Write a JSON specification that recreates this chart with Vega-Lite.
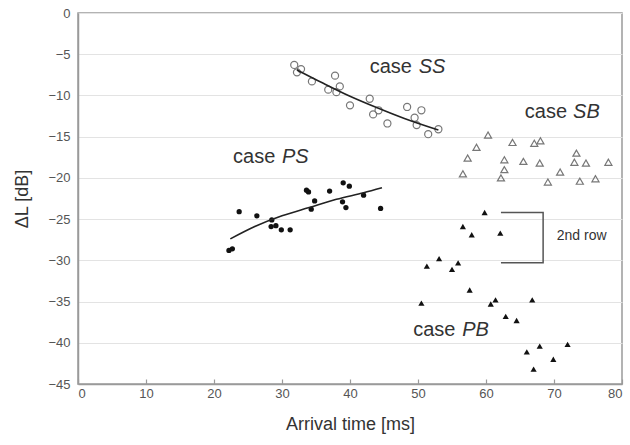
{
  "$schema": "https://vega.github.io/schema/vega-lite/v6.json",
  "width": 544,
  "height": 371,
  "autosize": {"type": "none"},
  "padding": {"left": 78, "top": 13, "right": 8, "bottom": 61},
  "background": "white",
  "config": {
    "view": {"stroke": "#9a9a9a", "strokeWidth": 1.5},
    "font": "Liberation Sans",
    "axis": {
      "labelFont": "Liberation Sans",
      "titleFont": "Liberation Sans",
      "labelColor": "#555555",
      "labelFontSize": 13,
      "titleFontSize": 18,
      "titleFontWeight": "normal",
      "titleColor": "#333333",
      "domainColor": "#9a9a9a",
      "domainWidth": 1.5,
      "tickColor": "#9a9a9a"
    }
  },
  "datasets": {
    "points": [
      {"t": 31.8, "dL": -6.3, "case": "SS"},
      {"t": 32.2, "dL": -7.2, "case": "SS"},
      {"t": 32.8, "dL": -6.8, "case": "SS"},
      {"t": 34.4, "dL": -8.3, "case": "SS"},
      {"t": 37.8, "dL": -7.6, "case": "SS"},
      {"t": 36.8, "dL": -9.3, "case": "SS"},
      {"t": 38.5, "dL": -8.9, "case": "SS"},
      {"t": 38.0, "dL": -9.6, "case": "SS"},
      {"t": 40.0, "dL": -11.2, "case": "SS"},
      {"t": 42.9, "dL": -10.4, "case": "SS"},
      {"t": 44.2, "dL": -11.8, "case": "SS"},
      {"t": 43.4, "dL": -12.3, "case": "SS"},
      {"t": 45.5, "dL": -13.4, "case": "SS"},
      {"t": 48.4, "dL": -11.4, "case": "SS"},
      {"t": 50.5, "dL": -11.8, "case": "SS"},
      {"t": 49.5, "dL": -12.7, "case": "SS"},
      {"t": 49.8, "dL": -13.6, "case": "SS"},
      {"t": 51.5, "dL": -14.7, "case": "SS"},
      {"t": 53.0, "dL": -14.1, "case": "SS"},
      {"t": 22.2, "dL": -28.8, "case": "PS"},
      {"t": 22.7, "dL": -28.6, "case": "PS"},
      {"t": 23.7, "dL": -24.1, "case": "PS"},
      {"t": 26.3, "dL": -24.6, "case": "PS"},
      {"t": 28.5, "dL": -25.1, "case": "PS"},
      {"t": 28.4, "dL": -25.9, "case": "PS"},
      {"t": 29.1, "dL": -25.8, "case": "PS"},
      {"t": 29.9, "dL": -26.3, "case": "PS"},
      {"t": 31.2, "dL": -26.3, "case": "PS"},
      {"t": 33.6, "dL": -21.5, "case": "PS"},
      {"t": 33.9, "dL": -21.7, "case": "PS"},
      {"t": 34.8, "dL": -22.8, "case": "PS"},
      {"t": 34.3, "dL": -23.8, "case": "PS"},
      {"t": 37.0, "dL": -21.6, "case": "PS"},
      {"t": 39.0, "dL": -20.6, "case": "PS"},
      {"t": 39.9, "dL": -21.0, "case": "PS"},
      {"t": 38.9, "dL": -22.9, "case": "PS"},
      {"t": 39.4, "dL": -23.6, "case": "PS"},
      {"t": 42.0, "dL": -22.1, "case": "PS"},
      {"t": 44.5, "dL": -23.7, "case": "PS"},
      {"t": 60.3, "dL": -14.8, "case": "SB"},
      {"t": 58.6, "dL": -16.3, "case": "SB"},
      {"t": 57.3, "dL": -17.6, "case": "SB"},
      {"t": 56.6, "dL": -19.5, "case": "SB"},
      {"t": 63.9, "dL": -15.7, "case": "SB"},
      {"t": 62.7, "dL": -17.8, "case": "SB"},
      {"t": 62.7, "dL": -19.0, "case": "SB"},
      {"t": 62.2, "dL": -20.0, "case": "SB"},
      {"t": 65.5, "dL": -18.0, "case": "SB"},
      {"t": 67.1, "dL": -15.8, "case": "SB"},
      {"t": 68.0, "dL": -15.5, "case": "SB"},
      {"t": 67.9, "dL": -18.2, "case": "SB"},
      {"t": 69.1, "dL": -20.5, "case": "SB"},
      {"t": 70.9, "dL": -19.3, "case": "SB"},
      {"t": 73.3, "dL": -17.0, "case": "SB"},
      {"t": 73.0, "dL": -18.1, "case": "SB"},
      {"t": 74.7, "dL": -18.2, "case": "SB"},
      {"t": 73.8, "dL": -20.4, "case": "SB"},
      {"t": 76.1, "dL": -20.1, "case": "SB"},
      {"t": 78.0, "dL": -18.1, "case": "SB"},
      {"t": 59.8, "dL": -24.2, "case": "PB"},
      {"t": 56.6, "dL": -25.9, "case": "PB"},
      {"t": 57.9, "dL": -26.9, "case": "PB"},
      {"t": 62.1, "dL": -26.7, "case": "PB"},
      {"t": 53.1, "dL": -29.8, "case": "PB"},
      {"t": 51.3, "dL": -30.7, "case": "PB"},
      {"t": 55.9, "dL": -30.3, "case": "PB"},
      {"t": 55.0, "dL": -31.1, "case": "PB"},
      {"t": 57.6, "dL": -33.6, "case": "PB"},
      {"t": 50.5, "dL": -35.2, "case": "PB"},
      {"t": 60.7, "dL": -35.3, "case": "PB"},
      {"t": 61.4, "dL": -34.8, "case": "PB"},
      {"t": 66.8, "dL": -34.8, "case": "PB"},
      {"t": 62.9, "dL": -36.8, "case": "PB"},
      {"t": 64.5, "dL": -37.3, "case": "PB"},
      {"t": 66.0, "dL": -41.1, "case": "PB"},
      {"t": 67.9, "dL": -40.4, "case": "PB"},
      {"t": 67.0, "dL": -43.2, "case": "PB"},
      {"t": 69.9, "dL": -42.0, "case": "PB"},
      {"t": 72.0, "dL": -40.2, "case": "PB"}
    ],
    "fits": [
      {"t": 32.2, "dL": -6.9, "case": "SS"},
      {"t": 36, "dL": -8.5, "case": "SS"},
      {"t": 40, "dL": -10.1, "case": "SS"},
      {"t": 44, "dL": -11.5, "case": "SS"},
      {"t": 48, "dL": -12.8, "case": "SS"},
      {"t": 53, "dL": -14.2, "case": "SS"},
      {"t": 22.4, "dL": -27.4, "case": "PS"},
      {"t": 26, "dL": -25.9, "case": "PS"},
      {"t": 30, "dL": -24.6, "case": "PS"},
      {"t": 34, "dL": -23.6, "case": "PS"},
      {"t": 38, "dL": -22.6, "case": "PS"},
      {"t": 42, "dL": -21.8, "case": "PS"},
      {"t": 44.7, "dL": -21.2, "case": "PS"}
    ],
    "bracket": [
      {"t": 62.2, "dL": -24.2, "k": 1},
      {"t": 68.4, "dL": -24.2, "k": 2},
      {"t": 68.4, "dL": -30.3, "k": 3},
      {"t": 62.2, "dL": -30.3, "k": 4}
    ],
    "labels": [
      {"t": 42.9, "dL": -7.3, "word": "case", "style": "normal"},
      {"t": 50.1, "dL": -7.3, "word": "SS", "style": "italic"},
      {"t": 22.8, "dL": -18.2, "word": "case", "style": "normal"},
      {"t": 30.0, "dL": -18.2, "word": "PS", "style": "italic"},
      {"t": 65.7, "dL": -12.7, "word": "case", "style": "normal"},
      {"t": 72.8, "dL": -12.7, "word": "SB", "style": "italic"},
      {"t": 49.3, "dL": -39.2, "word": "case", "style": "normal"},
      {"t": 56.5, "dL": -39.2, "word": "PB", "style": "italic"}
    ],
    "note": [
      {"t": 70.4, "dL": -27.55, "word": "2nd row"}
    ]
  },
  "encoding": {
    "x": {
      "field": "t", "type": "quantitative",
      "scale": {"domain": [0, 80], "nice": false},
      "axis": {
        "title": "Arrival time [ms]",
        "values": [0, 10, 20, 30, 40, 50, 60, 70, 80],
        "grid": false,
        "tickSize": -5,
        "tickWidth": 1.2,
        "labelPadding": 8,
        "titlePadding": 15
      }
    },
    "y": {
      "field": "dL", "type": "quantitative",
      "scale": {"domain": [-45, 0], "nice": false},
      "axis": {
        "title": "ΔL [dB]",
        "values": [0, -5, -10, -15, -20, -25, -30, -35, -40, -45],
        "grid": true,
        "gridColor": "#e3e3e3",
        "gridWidth": 1,
        "ticks": false,
        "labelPadding": 8,
        "titlePadding": 16
      }
    }
  },
  "layer": [
    {
      "data": {"name": "points"},
      "transform": [{"filter": "datum.case === 'SS'"}],
      "mark": {"type": "point", "shape": "circle", "filled": false, "stroke": "#777777", "strokeWidth": 1.2, "size": 50, "opacity": 1}
    },
    {
      "data": {"name": "points"},
      "transform": [{"filter": "datum.case === 'PS'"}],
      "mark": {"type": "point", "shape": "circle", "filled": true, "fill": "#111111", "size": 28, "opacity": 1}
    },
    {
      "data": {"name": "points"},
      "transform": [{"filter": "datum.case === 'SB'"}],
      "mark": {"type": "point", "shape": "triangle-up", "filled": false, "stroke": "#777777", "strokeWidth": 1.2, "size": 50, "opacity": 1}
    },
    {
      "data": {"name": "points"},
      "transform": [{"filter": "datum.case === 'PB'"}],
      "mark": {"type": "point", "shape": "triangle-up", "filled": true, "fill": "#111111", "size": 38, "opacity": 1}
    },
    {
      "data": {"name": "fits"},
      "mark": {"type": "line", "color": "#222222", "strokeWidth": 1.6, "interpolate": "monotone"},
      "encoding": {"detail": {"field": "case"}}
    },
    {
      "data": {"name": "bracket"},
      "mark": {"type": "line", "color": "#555555", "strokeWidth": 1.5},
      "encoding": {"order": {"field": "k"}}
    },
    {
      "data": {"name": "labels"},
      "transform": [{"filter": "datum.style === 'normal'"}],
      "mark": {"type": "text", "align": "left", "baseline": "alphabetic", "fontSize": 20, "color": "#333333", "font": "Liberation Sans"},
      "encoding": {"text": {"field": "word"}}
    },
    {
      "data": {"name": "labels"},
      "transform": [{"filter": "datum.style === 'italic'"}],
      "mark": {"type": "text", "align": "left", "baseline": "alphabetic", "fontSize": 20, "fontStyle": "italic", "color": "#333333", "font": "Liberation Sans"},
      "encoding": {"text": {"field": "word"}}
    },
    {
      "data": {"name": "note"},
      "mark": {"type": "text", "align": "left", "baseline": "alphabetic", "fontSize": 14, "color": "#333333", "font": "Liberation Sans"},
      "encoding": {"text": {"field": "word"}}
    }
  ]
}
